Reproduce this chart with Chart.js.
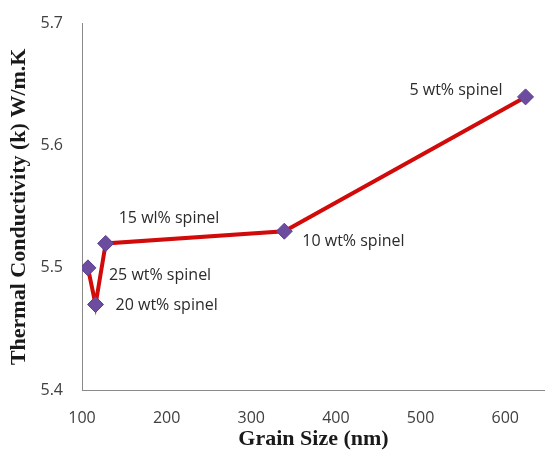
<!DOCTYPE html>
<html>
<head>
<meta charset="utf-8">
<script src="https://cdn.jsdelivr.net/npm/chart.js@4/dist/chart.umd.min.js"></script>
<style>
  html, body { margin: 0; padding: 0; background: #fff; }
  #wrap { width: 545px; height: 455px; position: relative; }
</style>
</head>
<body>
<div id="wrap"><canvas id="chart"></canvas></div>
<script>
// values
const grainSize = [107, 116, 128, 339, 624];
const conductivity = [5.50, 5.47, 5.52, 5.53, 5.64];
const pointLabels = ["25 wt% spinel", "20 wt% spinel", "15 wl% spinel", "10 wt% spinel", "5 wt% spinel"];
const xTicks = [100, 200, 300, 400, 500, 600];
const yTicks = [5.4, 5.5, 5.6, 5.7];

// label placement relative to each marker
const labelOffsets = [
  { dx: 21, dy: 8, align: "left" },
  { dx: 20, dy: 1, align: "left" },
  { dx: 13, dy: -25, align: "left" },
  { dx: 18, dy: 10, align: "left" },
  { dx: -23, dy: -6, align: "right" }
];

const labelPlugin = {
  id: "pointLabels",
  afterDatasetsDraw(chart) {
    const ctx = chart.ctx;
    const meta = chart.getDatasetMeta(0);
    ctx.save();
    ctx.font = "16px 'Open Sans'";
    ctx.fillStyle = "#2b2b2b";
    ctx.textBaseline = "middle";
    meta.data.forEach((pt, i) => {
      const o = labelOffsets[i];
      ctx.textAlign = o.align;
      ctx.fillText(pointLabels[i], pt.x + o.dx, pt.y + o.dy);
    });
    ctx.restore();
  }
};

new Chart(document.getElementById("chart"), {
  type: "line",
  data: {
    datasets: [{
      data: grainSize.map((x, i) => ({ x, y: conductivity[i] })),
      borderColor: "#d10a0a",
      borderWidth: 4,
      tension: 0,
      pointStyle: "rectRot",
      pointRadius: 8,
      pointBackgroundColor: "#6b4c9f",
      pointBorderColor: "#5d3f92",
      pointBorderWidth: 1
    }]
  },
  options: {
    responsive: true,
    maintainAspectRatio: false,
    animation: false,
    layout: { autoPadding: false, padding: { top: 20, right: 0, left: 0, bottom: 0 } },
    plugins: { legend: { display: false }, tooltip: { enabled: false } },
    scales: {
      x: {
        type: "linear",
        min: 100,
        max: 647,
        afterBuildTicks: s => { s.ticks = xTicks.map(v => ({ value: v })); },
        afterFit: s => { s.height = 65; },
        grid: { display: false, drawTicks: true, tickLength: 5, color: "#8a8a8a" },
        border: { color: "#8a8a8a", width: 1 },
        ticks: { color: "#404040", font: { family: "'Open Sans'", size: 16 }, padding: 14, maxRotation: 0 },
        title: { display: true, text: "Grain Size (nm)", color: "#1a1a1a", font: { family: "'Liberation Serif'", size: 22, weight: "bold" }, padding: { top: 0, bottom: 2 } }
      },
      y: {
        min: 5.4,
        max: 5.7,
        afterBuildTicks: s => { s.ticks = yTicks.map(v => ({ value: v })); },
        afterFit: s => { s.width = 82; },
        grid: { display: false, drawTicks: true, tickLength: 5, color: "#8a8a8a" },
        border: { color: "#8a8a8a", width: 1 },
        ticks: { color: "#404040", font: { family: "'Open Sans'", size: 16 }, padding: 14, callback: v => v.toFixed(1) },
        title: { display: true, text: "Thermal Conductivity (k) W/m.K", color: "#1a1a1a", font: { family: "'Liberation Serif'", size: 22, weight: "bold" }, padding: { top: 6, bottom: 0 } }
      }
    }
  },
  plugins: [labelPlugin]
});
</script>
</body>
</html>
